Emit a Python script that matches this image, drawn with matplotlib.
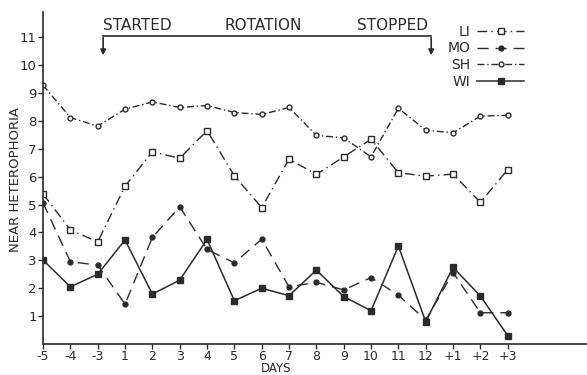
import matplotlib
matplotlib.use("Agg")
import matplotlib.pyplot as plt
import numpy as np

# day labels along the x axis, plotted at even spacing
days = ["-5", "-4", "-3", "1", "2", "3", "4", "5", "6", "7", "8", "9", "10", "11", "12", "+1", "+2", "+3"]

li = [5.38, 4.09, 3.66, 5.66, 6.89, 6.66, 7.65, 6.03, 4.89, 6.63, 6.08, 6.71, 7.34, 6.14, 6.02, 6.09, 5.08, 6.25]
mo = [5.06, 2.95, 2.83, 1.43, 3.82, 4.92, 3.39, 2.91, 3.76, 2.05, 2.21, 1.94, 2.38, 1.75, 0.86, 2.56, 1.12, 1.12]
sh = [9.28, 8.12, 7.81, 8.42, 8.68, 8.48, 8.55, 8.30, 8.23, 8.48, 7.48, 7.39, 6.71, 8.45, 7.67, 7.57, 8.17, 8.20]
wi = [3.01, 2.05, 2.50, 3.73, 1.79, 2.29, 3.75, 1.55, 2.00, 1.73, 2.65, 1.70, 1.19, 3.51, 0.80, 2.75, 1.72, 0.30]

yticks = list(range(1, 12))

ink = "#2b2b2b"
plt.rcParams["font.family"] = "DejaVu Sans"

fig = plt.figure(figsize=(5.87, 3.75), dpi=100)
ax = fig.add_axes([0.0733, 0.0827, 0.9267, 0.885])

x = np.arange(len(days))

ax.plot(x, li, color=ink, lw=1.0, dashes=(7, 3, 1, 3), marker="s", ms=4,
        mfc="white", mec=ink, mew=1.0, label="LI")
ax.plot(x, mo, color=ink, lw=1.0, dashes=(8, 5), marker="o", ms=3.5,
        mfc=ink, mec=ink, label="MO")
ax.plot(x, sh, color=ink, lw=1.0, dashes=(5, 2, 1, 2), marker="o", ms=3.5,
        mfc="white", mec=ink, mew=1.0, label="SH")
ax.plot(x, wi, color=ink, lw=1.1, marker="s", ms=4.5,
        mfc=ink, mec=ink, label="WI")

ax.set_xlim(0, 19.9)
ax.set_ylim(0, 11.9)
ax.set_xticks(x)
ax.set_xticklabels(days)
ax.set_yticks(yticks)
ax.set_yticklabels([str(v) for v in yticks])
ax.tick_params(colors=ink, labelsize=9, length=3.5, width=1, direction="out", pad=1)
ax.tick_params(axis="y", labelsize=9.5)
for s in ["top", "right"]:
    ax.spines[s].set_visible(False)
for s in ["left", "bottom"]:
    ax.spines[s].set_color(ink)
    ax.spines[s].set_linewidth(1.2)

# axis titles placed in figure coords
fig.text(16 / 587, 1 - 180 / 375, "NEAR HETEROPHORIA", rotation=90, fontsize=9.5,
         color=ink, ha="center", va="center")
fig.text(276 / 587, 0.0, "DAYS", fontsize=8.5, color=ink,
         ha="center", va="bottom")

# bracket marking the rotation period
x0, x1, yb = 2.2, 14.2, 11.05
ax.plot([x0, x1], [yb, yb], color=ink, lw=1.2, clip_on=False)
ax.annotate("", xy=(x0, 10.25), xytext=(x0, yb + 0.03),
            arrowprops=dict(arrowstyle="-|>", color=ink, lw=1.2, mutation_scale=8),
            annotation_clip=False)
ax.annotate("", xy=(x1, 10.25), xytext=(x1, yb + 0.03),
            arrowprops=dict(arrowstyle="-|>", color=ink, lw=1.2, mutation_scale=8),
            annotation_clip=False)
ax.text(x0, yb + 0.1, "STARTED", fontsize=11, color=ink, ha="left", va="bottom")
ax.text(8.05, yb + 0.1, "ROTATION", fontsize=11, color=ink, ha="center", va="bottom")
ax.text(x1 - 0.1, yb + 0.1, "STOPPED", fontsize=11, color=ink, ha="right", va="bottom")

leg = ax.legend(loc="upper left", bbox_to_anchor=(0.72, 1.0), frameon=False,
                handlelength=3.4, handletextpad=0.5, labelspacing=0.2,
                markerfirst=False, fontsize=10)
for t in leg.get_texts():
    t.set_color(ink)

fig.savefig("out.png", dpi=100, facecolor="white")
